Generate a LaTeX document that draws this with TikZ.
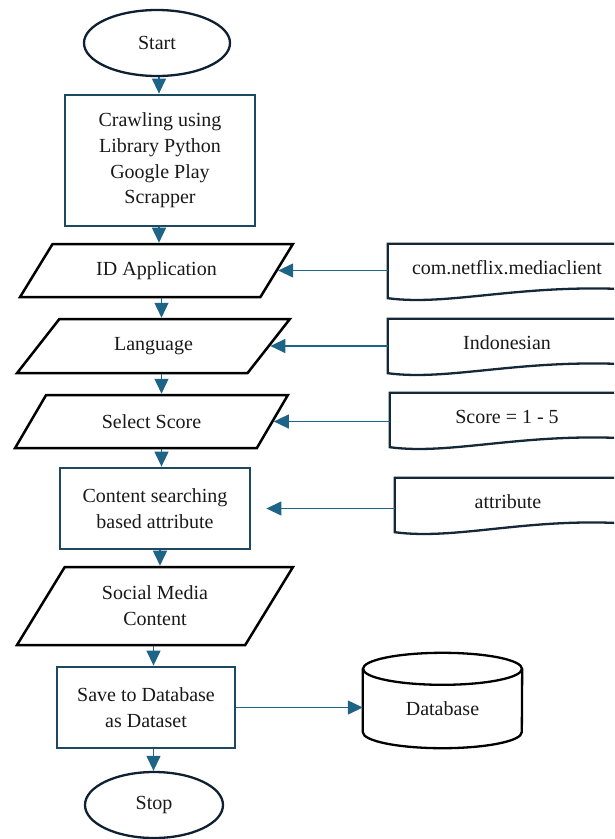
\documentclass[tikz,border=0pt]{standalone}
\usepackage{fontspec}
\setmainfont{Liberation Serif}
\usetikzlibrary{shapes.geometric,arrows.meta,calc}
\definecolor{arrowc}{RGB}{30,100,135}
\definecolor{rectc}{RGB}{28,72,96}
\definecolor{termc}{RGB}{14,32,50}
\definecolor{docc}{RGB}{20,40,55}
\definecolor{txtc}{RGB}{25,25,25}
\begin{document}
\begin{tikzpicture}[x=1pt,y=-1pt,
  font=\fontsize{20}{25.7}\selectfont, text=txtc,
  termbox/.style={ellipse, draw=termc, line width=2.3pt, inner sep=0pt},
  procbox/.style={rectangle, draw=rectc, line width=2.8pt, align=center, inner sep=0pt},
  iobox/.style={trapezium, trapezium stretches=true, draw=black, line width=2.5pt, align=center, inner sep=0pt},
  docbox/.style={rectangle, inner sep=0pt, align=center, minimum height=48pt},
  docline/.style={draw=docc, line width=2.3pt},
  cylline/.style={draw=black, line width=2.3pt},
  arr/.style={draw=arrowc, line width=1.3pt, -{Triangle[length=15pt,width=14pt]}}
]
\useasboundingbox (0,0) rectangle (614,839);
\clip (0,0) rectangle (614,839);

% main column
\node[termbox, minimum width=146pt, minimum height=66pt] (start) at (157,43) {Start};
\node[procbox, minimum width=190pt, minimum height=131pt] (crawl) at (160,160.5)
  {Crawling using\\Library Python\\Google Play\\Scrapper};
\node[iobox, minimum width=273pt, minimum height=53pt,
  trapezium left angle=43.9, trapezium right angle=136.1] (p1) at (156.5,270.5) {ID Application};
\node[iobox, minimum width=273pt, minimum height=54pt,
  trapezium left angle=44.5, trapezium right angle=135.5] (p2) at (153.5,346) {Language};
\node[iobox, minimum width=273pt, minimum height=53pt,
  trapezium left angle=43.9, trapezium right angle=136.1] (p3) at (151.5,421.5) {Select Score};
\node[procbox, minimum width=190pt, minimum height=81pt] (content) at (155,508.5)
  {Content searching\\based attribute};
\node[iobox, minimum width=276pt, minimum height=78pt,
  trapezium left angle=54.8, trapezium right angle=125.2] (p5) at (155,606) {Social Media\\Content};
\node[procbox, minimum width=178pt, minimum height=81pt] (save) at (146,707.5)
  {Save to Database\\as Dataset};
\node[termbox, minimum width=138pt, minimum height=66pt] (stop) at (154,805) {Stop};

% documents
\node[docbox, minimum width=238pt] (d1) at (507,268) {com.netflix.mediaclient};
\node[docbox, minimum width=238pt] (d2) at (507,343) {Indonesian};
\node[docbox, minimum width=234pt] (d3) at (507,417) {Score = 1 - 5};
\node[docbox, minimum width=226pt] (d4) at (508,502) {attribute};
\foreach \d in {d1,d2,d3,d4}{
  \draw[docline] ($(\d.south east)+(0,-3)$) -- (\d.north east) -- (\d.north west)
    -- ($(\d.south west)+(0,6)$)
    .. controls ($(\d.south west)+(60,14)$) and ($(\d.south west)+(130,-8)$) ..
    ($(\d.south east)+(0,-3)$);
}

% database cylinder
\node[inner sep=0pt, minimum width=159pt, minimum height=79pt] (db) at (442.5,708.5) {Database};
\draw[cylline] (db.north) ellipse [x radius=79.5pt, y radius=16pt];
\draw[cylline] (db.north west) -- ($(db.south west)+(0,-16)$)
  arc[start angle=180, end angle=360, x radius=79.5pt, y radius=16pt] -- (db.north east);

% column coordinates
\coordinate (c1) at (159,0);
\coordinate (c2) at (161.5,0);
\coordinate (c3) at (160,0);
\coordinate (c4) at (153.5,0);

% vertical flow
\draw[arr] (start.south -| c1) -- (crawl.north -| c1);
\draw[arr] (crawl.south -| c1) -- (p1.north -| c1);
\draw[arr] (p1.south -| c2) -- (p2.north -| c2);
\draw[arr] (p2.south -| c2) -- (p3.north -| c2);
\draw[arr] (p3.south -| c2) -- (content.north -| c2);
\draw[arr] (content.south -| c3) -- (p5.north -| c3);
\draw[arr] (p5.south -| c4) -- (save.north -| c4);
\draw[arr] (save.south -| c4) -- (stop.north -| c4);

% inputs
\draw[arr] (d1.west |- p1.east) -- (p1.east);
\draw[arr] (d2.west |- p2.east) -- (p2.east);
\draw[arr] (d3.west |- p3.east) -- (p3.east);
\draw[arr] (d4.west |- content.east) -- ([xshift=15pt]content.east);

% output
\draw[arr] (save.east) -- (save.east -| db.west);
\end{tikzpicture}
\end{document}
